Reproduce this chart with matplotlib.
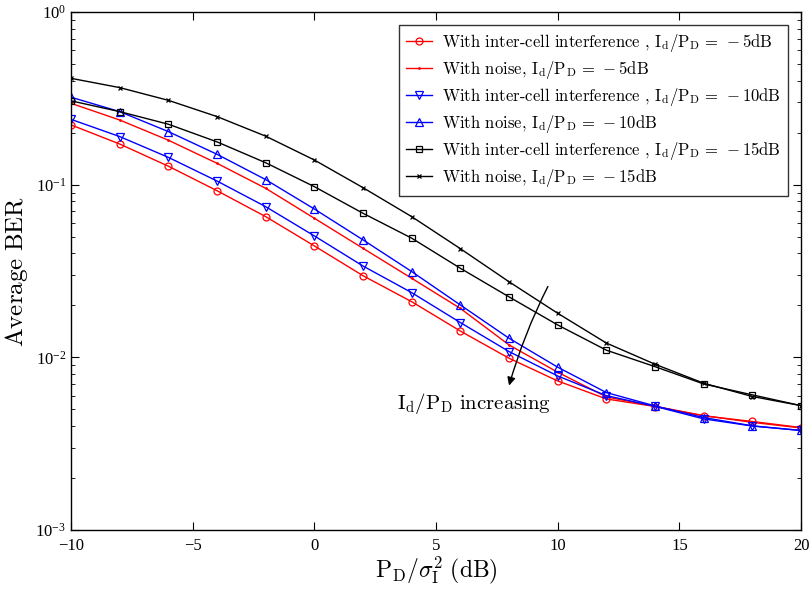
import numpy as np
import matplotlib
matplotlib.use('Agg')
import matplotlib.pyplot as plt

plt.rcParams['mathtext.fontset'] = 'cm'
plt.rcParams['font.family'] = ['Liberation Serif', 'DejaVu Serif']

snr_db = [-10, -8, -6, -4, -2, 0, 2, 4, 6, 8, 10, 12, 14, 16, 18, 20]

# Id/PD = -5 dB
icl_5 = [0.222, 0.172, 0.128, 0.0923, 0.0653, 0.0442, 0.0297, 0.0210, 0.0142, 0.00988,
         0.00730, 0.00574, 0.00519, 0.00458, 0.00425, 0.00392]
noise_5 = [0.296, 0.237, 0.181, 0.133, 0.0953, 0.0639, 0.0428, 0.0287, 0.0192, 0.0118,
           0.0082, 0.0059, 0.0052, 0.0046, 0.0042, 0.0039]
# Id/PD = -10 dB
icl_10 = [0.239, 0.190, 0.144, 0.105, 0.0746, 0.0505, 0.0338, 0.0237, 0.0159, 0.0108,
          0.0078, 0.0060, 0.0052, 0.0044, 0.0040, 0.00377]
noise_10 = [0.321, 0.265, 0.203, 0.150, 0.107, 0.0723, 0.0479, 0.0314, 0.0201, 0.0129,
            0.00877, 0.00625, 0.00523, 0.00448, 0.00401, 0.00377]
# Id/PD = -15 dB
icl_15 = [0.306, 0.265, 0.224, 0.177, 0.134, 0.0974, 0.0683, 0.0490, 0.0328, 0.0224,
          0.0154, 0.0110, 0.00883, 0.00701, 0.00606, 0.00525]
noise_15 = [0.413, 0.365, 0.308, 0.248, 0.191, 0.139, 0.0961, 0.0653, 0.0426, 0.0274,
            0.0180, 0.0121, 0.00912, 0.00708, 0.00593, 0.00525]

lab_icl = r'With inter-cell interference , $\mathrm{I_d/P_D}\,=\,-%d$dB'
lab_noise = r'With noise, $\mathrm{I_d/P_D}\,=\,-%d$dB'

fig = plt.figure(figsize=(8.12, 5.89), dpi=100)
ax = fig.add_axes([0.0874, 0.1002, 0.8991, 0.8794])

ax.semilogy(snr_db, icl_5, 'r-o', lw=1, ms=5, mfc='none', mew=0.9, label=lab_icl % 5)
ax.semilogy(snr_db, noise_5, 'r.-', lw=1, ms=2, label=lab_noise % 5)
ax.semilogy(snr_db, icl_10, 'b-v', lw=1, ms=5.5, mfc='none', mew=0.9, label=lab_icl % 10)
ax.semilogy(snr_db, noise_10, 'b-^', lw=1, ms=5.5, mfc='none', mew=0.9, label=lab_noise % 10)
ax.semilogy(snr_db, icl_15, 'k-s', lw=1, ms=4, mfc='none', mew=0.9, label=lab_icl % 15)
ax.semilogy(snr_db, noise_15, 'k-x', lw=1, ms=3.5, mew=0.9, label=lab_noise % 15)

ax.set_xlim(-10, 20)
ax.set_ylim(1e-3, 1)
ax.set_xticks([-10, -5, 0, 5, 10, 15, 20])
ax.tick_params(which='both', direction='in', top=True, right=True, labelsize=12)
ax.tick_params(which='major', length=6)
ax.tick_params(which='minor', length=3)
ax.tick_params(axis='x', pad=6)
for s in ax.spines.values():
    s.set_linewidth(1)

ax.set_xlabel(r'$\mathrm{P_D}/\sigma_\mathrm{I}^2\ \mathrm{(dB)}$', fontsize=17, labelpad=0)
ax.set_ylabel(r'$\mathrm{Average\ BER}$', fontsize=18, labelpad=4)

leg = ax.legend(loc='upper right', prop={'family': 'cmr10', 'size': 12},
                frameon=True, fancybox=False, edgecolor='k', handlelength=1.6,
                handletextpad=0.6, borderaxespad=0.8, labelspacing=0.3)
leg.get_frame().set_linewidth(1)

ax.annotate('', xy=(7.97, 0.00662), xytext=(9.65, 0.0266),
            arrowprops=dict(arrowstyle='-|>', color='k', lw=1,
                            connectionstyle='arc3,rad=0.05', mutation_scale=12))
ax.text(3.4, 0.00537, r'$\mathrm{I_d/P_D\ increasing}$', fontsize=15, va='center')

plt.savefig('out.png')
